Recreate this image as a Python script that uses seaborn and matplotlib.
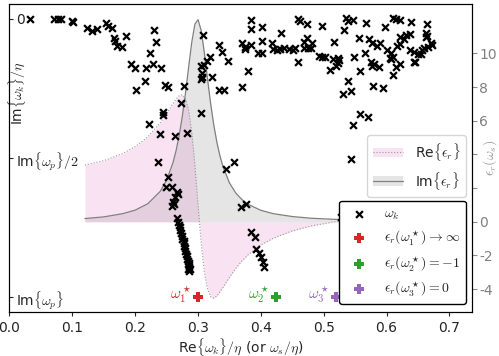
import matplotlib
matplotlib.use("Agg")
import matplotlib.pyplot as plt
import seaborn as sns

# ------------------------------------------
# Data
# ------------------------------------------

# complex eigenfrequencies omega_k (real part, imaginary part / |Im omega_p|)
omega_k_re = [
    0.033, 0.071, 0.077, 0.082, 0.099, 0.101, 0.123, 0.132, 0.140,
    0.153, 0.157, 0.163, 0.167, 0.168, 0.171, 0.179, 0.185,
    0.230, 0.233, 0.224, 0.193, 0.200, 0.218, 0.228, 0.241,
    0.216, 0.202, 0.248, 0.253, 0.277, 0.245, 0.244, 0.273,
    0.222, 0.240, 0.264, 0.283, 0.237, 0.253, 0.304, 0.308,
    0.305, 0.310, 0.314, 0.319, 0.307, 0.305, 0.306, 0.323,
    0.334, 0.338, 0.347, 0.334, 0.342, 0.370,
    0.384, 0.384, 0.401, 0.370, 0.375, 0.374, 0.384, 0.402,
    0.432, 0.395, 0.401, 0.380,
    0.417, 0.419, 0.425, 0.430, 0.437, 0.444, 0.451, 0.454,
    0.459, 0.462, 0.473, 0.469, 0.473, 0.481, 0.468, 0.475, 0.479,
    0.459, 0.492, 0.497, 0.502, 0.498,
    0.536, 0.539, 0.547, 0.532, 0.568, 0.597, 0.610, 0.615, 0.621, 0.639, 0.665,
    0.517, 0.556, 0.572, 0.577, 0.584, 0.590,
    0.601, 0.607, 0.610, 0.605, 0.617, 0.621,
    0.622, 0.628, 0.631, 0.637,
    0.637, 0.644, 0.650, 0.656, 0.660, 0.666, 0.671, 0.673,
    0.663, 0.663, 0.665, 0.655, 0.643, 0.646,
    0.515, 0.523, 0.525, 0.522, 0.520, 0.510,
    0.548, 0.565, 0.557, 0.576, 0.577, 0.580, 0.588,
    0.610, 0.615, 0.622, 0.607,
    0.538, 0.531, 0.543, 0.578, 0.594,
    0.557, 0.570, 0.547, 0.543, 0.527,
    0.357, 0.344,
    0.249, 0.259, 0.267, 0.268, 0.264, 0.260, 0.259, 0.262,
    0.266, 0.268, 0.270, 0.271, 0.272, 0.273, 0.275, 0.275, 0.277, 0.278,
    0.278, 0.279, 0.280, 0.281, 0.282, 0.283, 0.284, 0.285, 0.286, 0.286,
    0.287, 0.286, 0.284,
    0.377, 0.369, 0.384, 0.390, 0.393, 0.397, 0.400, 0.403, 0.405,
]
omega_k_im = [
    0.000, 0.000, 0.000, 0.000, -0.006, -0.012, -0.033, -0.043, -0.036,
    -0.015, -0.024, -0.033, -0.067, -0.079, -0.096, -0.100, -0.060,
    -0.041, -0.084, -0.123, -0.163, -0.177, -0.177, -0.163, -0.177,
    -0.223, -0.256, -0.237, -0.244, -0.240, -0.333, -0.345, -0.303,
    -0.379, -0.415, -0.420, -0.411, -0.513, -0.567, -0.337, -0.058,
    -0.169, -0.165, -0.151, -0.138, -0.195, -0.216, -0.208, -0.208,
    -0.094, -0.118, -0.151, -0.255, -0.255, -0.244,
    -0.004, -0.036, -0.030, -0.087, -0.100, -0.108, -0.094, -0.079,
    -0.049, -0.123, -0.123, -0.187,
    -0.087, -0.108, -0.112, -0.108, -0.105, -0.108, -0.112, -0.105,
    0.000, -0.007, -0.019, -0.084, -0.069, -0.087, -0.105, -0.105, -0.103,
    -0.154, -0.132, -0.136, -0.136, -0.024,
    0.003, -0.007, -0.004, -0.040, -0.015, -0.028, 0.003, 0.000, -0.004, -0.010, -0.019,
    -0.082, -0.067, -0.073, -0.087, -0.096, -0.087,
    -0.112, -0.123, -0.136, -0.141, -0.096, -0.091,
    -0.066, -0.073, -0.058, -0.054,
    -0.112, -0.120, -0.127, -0.112, -0.103, -0.100, -0.087, -0.094,
    -0.051, -0.064, -0.060, -0.127, -0.154, -0.156,
    -0.144, -0.141, -0.147, -0.159, -0.168, -0.183,
    -0.136, -0.123, -0.187, -0.156, -0.168, -0.163, -0.172,
    -0.201, -0.172, -0.163, -0.145,
    -0.223, -0.271, -0.259, -0.241, -0.249,
    -0.342, -0.354, -0.381, -0.505, -0.712,
    -0.513, -0.540,
    -0.604, -0.606, -0.622, -0.630, -0.640, -0.658, -0.673, -0.665,
    -0.717, -0.730, -0.741, -0.748, -0.759, -0.770, -0.781, -0.791, -0.797, -0.806,
    -0.817, -0.824, -0.835, -0.844, -0.853, -0.863, -0.871, -0.878, -0.885, -0.892,
    -0.899, -0.905, -0.898,
    -0.665, -0.677, -0.767, -0.785, -0.828, -0.843, -0.857, -0.873, -0.891,
]

# relative permittivity sampled along the real frequency axis
omega_s = [
    0.12, 0.15, 0.18, 0.20, 0.22, 0.24, 0.25, 0.26, 0.265, 0.27,
    0.275, 0.28, 0.285, 0.29, 0.295, 0.30, 0.305, 0.31, 0.315, 0.32,
    0.325, 0.33, 0.335, 0.34, 0.35, 0.36, 0.37, 0.38, 0.40, 0.42,
    0.45, 0.48, 0.52, 0.56, 0.60, 0.65, 0.70,
]
eps_re = [
    3.37, 3.63, 4.05, 4.46, 5.04, 5.88, 6.43, 7.01, 7.28, 7.48,
    7.54, 7.32, 6.64, 5.33, 3.37, 1.00, -1.25, -2.96, -3.98, -4.45,
    -4.54, -4.41, -4.16, -3.88, -3.30, -2.77, -2.32, -1.95, -1.38, -0.97,
    -0.54, -0.25, 0.02, 0.21, 0.34, 0.46, 0.55,
]
eps_im = [
    0.19, 0.29, 0.48, 0.69, 1.07, 1.81, 2.47, 3.49, 4.21, 5.12,
    6.26, 7.62, 9.16, 10.65, 11.73, 12.00, 11.36, 10.05, 8.51, 7.03,
    5.76, 4.72, 3.89, 3.24, 2.31, 1.71, 1.31, 1.03, 0.68, 0.48,
    0.31, 0.21, 0.14, 0.10, 0.07, 0.05, 0.04,
]

# special frequencies omega_1*, omega_2*, omega_3*
star_re = [0.300, 0.424, 0.520]
star_im = [-1.0, -1.0, -1.0]
star_names = [r"$\omega_1^\star$", r"$\omega_2^\star$", r"$\omega_3^\star$"]
star_labels = [
    r"$\epsilon_r(\omega_1^\star) \to \infty$",
    r"$\epsilon_r(\omega_2^\star) = -1$",
    r"$\epsilon_r(\omega_3^\star) = 0$",
]
star_colors = ["#d62728", "#2ca02c", "#9467bd"]

left_ticks = [0.0, -0.5, -1.0]
left_ticklabels = ["0", r"Im$\{\omega_p\}/2$", r"Im$\{\omega_p\}$"]
right_ticks = [-4, -2, 0, 2, 4, 6, 8, 10]
right_ticklabels = ["-4", "-2", "0", "", "", "6", "8", "10"]

# ------------------------------------------
# Style
# ------------------------------------------

sns.set_style("ticks")
plt.rcParams["font.family"] = ["DejaVu Sans"]
plt.rcParams["mathtext.fontset"] = "cm"
plt.rcParams["font.size"] = 10

fig = plt.figure(figsize=(4.99, 3.56), dpi=100)
ax = fig.add_axes([0.019, 0.1244, 0.9275, 0.8644])
ax2 = ax.twinx()

# ------------------------------------------
# Permittivity (right axis)
# ------------------------------------------

pink = "#e377c2"
grey = "#7f7f7f"

fill_im = ax2.fill_between(omega_s, eps_im, 0, color=grey, alpha=0.2, lw=0)
sns.lineplot(x=omega_s, y=eps_im, ax=ax2, color="0.5", lw=0.9, sort=False)
line_im = ax2.lines[-1]

fill_re = ax2.fill_between(omega_s, eps_re, 0, color=pink, alpha=0.2, lw=0)
sns.lineplot(x=omega_s, y=eps_re, ax=ax2, color="0.6", lw=0.8,
             linestyle=":", sort=False)
line_re = ax2.lines[-1]

ax2.set_ylim(-5.34, 12.93)
ax2.set_yticks(right_ticks)
ax2.set_yticklabels(right_ticklabels)
ax2.tick_params(axis="y", colors="0.55", labelcolor="0.5", length=3.5, pad=1.5)
ax2.set_ylabel(r"$\epsilon_r(\omega_s)$", color="0.6")
ax2.yaxis.set_label_coords(1.02, 0.5)

leg1 = ax2.legend(
    [(fill_re, line_re), (fill_im, line_im)],
    [r"Re$\{\epsilon_r\}$", r"Im$\{\epsilon_r\}$"],
    loc="upper right", bbox_to_anchor=(0.986, 0.574), borderaxespad=0,
    handlelength=2.2,
)

# ------------------------------------------
# Eigenfrequencies (left axis)
# ------------------------------------------

ax.set_zorder(ax2.get_zorder() + 1)
ax.patch.set_visible(False)

sns.scatterplot(x=omega_k_re, y=omega_k_im, ax=ax, marker="x", color="black",
                s=24, linewidth=1.6, label=r"$\omega_k$", legend=False)

for xs, ys, name, lab, col in zip(star_re, star_im, star_names, star_labels, star_colors):
    sns.scatterplot(x=[xs], y=[ys], ax=ax, marker="P", color=col, s=60,
                    edgecolor=col, linewidth=0, label=lab, legend=False)
    ax.annotate(name, (xs, ys), xytext=(-5, 1), textcoords="offset points",
                ha="right", va="center", color=col, fontsize=11)

ax.set_xlim(0, 0.7364)
ax.set_ylim(-1.053, 0.054)
ax.set_xticks([0.0, 0.1, 0.2, 0.3, 0.4, 0.5, 0.6, 0.7])
ax.set_yticks(left_ticks)
ax.set_yticklabels(left_ticklabels)
ax.tick_params(axis="y", direction="in", length=3, pad=-4.5)
for t in ax.get_yticklabels():
    t.set_horizontalalignment("left")
ax.tick_params(axis="x", length=3)

ax.set_xlabel(r"Re$\{\omega_k\}/\eta$ (or $\omega_s/\eta$)", labelpad=1)
ax.set_ylabel(r"Im$\{\omega_k\}/\eta$")
ax.yaxis.set_label_coords(0.04, 0.71)

handles, labels = ax.get_legend_handles_labels()
leg2 = ax.legend(handles, labels, loc="lower right",
                 bbox_to_anchor=(0.986, 0.025), borderaxespad=0,
                 framealpha=1, edgecolor="black")
leg2.get_frame().set_linewidth(1.0)

for a in (ax, ax2):
    for sp in a.spines.values():
        sp.set_visible(True)
        sp.set_color("black")

fig.savefig("out.png", dpi=100)
